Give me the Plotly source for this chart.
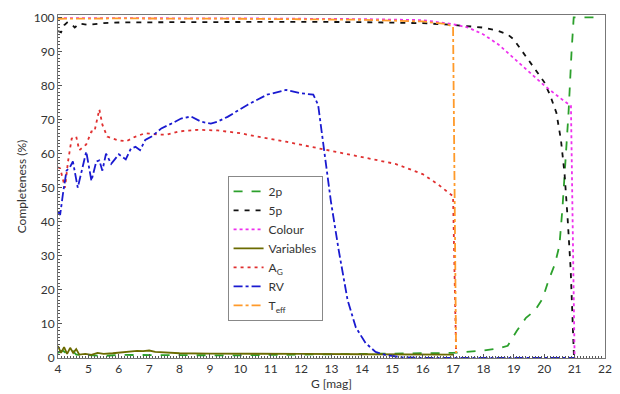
import plotly.graph_objects as go

# --- data (G magnitude vs completeness %) ---
g_2p = [4.0, 4.15, 4.3, 4.45, 4.6, 4.8, 5.0, 5.5, 6.0, 7.0, 8.0, 9.0, 10.0, 11.0, 12.0, 13.0, 14.0, 15.0,
        16.0, 17.0, 18.0, 18.5, 18.8, 19.1, 19.4, 19.7, 19.95, 20.15, 20.35, 20.5, 20.6, 20.7, 20.8, 20.9,
        20.97, 21.3, 21.9]
c_2p = [1.5, 2.2, 1.2, 2.4, 1.0, 0.9, 0.8, 0.6, 0.9, 0.8, 0.7, 0.8, 0.8, 0.9, 1.0, 1.0, 1.0, 1.1,
        1.2, 1.5, 2.2, 2.8, 3.6, 8.0, 11.8, 14.0, 17.5, 23.0, 27.5, 33.0, 44.0, 58.0, 72.0, 90.0,
        100.0, 100.0, 100.0]

g_5p = [4.0, 4.1, 4.2, 4.3, 4.45, 4.55, 4.7, 5.0, 5.5, 6.0, 8.0, 10.0, 12.0, 14.0, 16.0, 17.0, 17.5, 18.0,
        18.5, 18.8, 19.0, 19.2, 19.5, 19.8, 20.0, 20.2, 20.4, 20.55, 20.67, 20.77, 20.87, 20.93, 20.98]
c_5p = [96.0, 95.6, 97.7, 98.5, 98.0, 97.0, 98.2, 97.8, 98.3, 98.5, 98.6, 98.7, 98.7, 98.6, 98.3, 97.8, 97.5, 97.0,
        96.0, 95.0, 93.5, 91.0, 87.0, 83.5, 81.0, 77.0, 72.0, 64.0, 54.0, 41.0, 26.0, 12.0, 0.0]

g_col = [4.0, 6.0, 10.0, 14.0, 16.0, 17.0, 17.5, 18.0, 18.5, 19.0, 19.5, 20.0, 20.5, 20.88, 21.0]
c_col = [99.8, 99.8, 99.7, 99.5, 99.2, 98.0, 97.0, 95.0, 92.0, 88.0, 84.0, 80.0, 76.5, 74.0, 0.0]

g_var = [4.0, 4.1, 4.2, 4.3, 4.4, 4.5, 4.6, 4.7, 4.9, 5.1, 5.3, 5.5, 5.8, 6.0, 6.2, 6.4, 6.6, 6.8, 7.0,
         7.2, 7.5, 8.0, 9.0, 10.0, 12.0, 14.0, 16.0, 17.0]
c_var = [3.5, 1.5, 3.2, 1.2, 3.0, 1.5, 2.6, 1.0, 1.2, 0.9, 1.5, 1.2, 1.4, 1.6, 1.8, 1.9, 2.1, 2.0, 2.2,
         1.8, 1.6, 1.4, 1.3, 1.2, 1.2, 1.1, 1.1, 1.0]

g_ag = [4.0, 4.07, 4.23, 4.33, 4.45, 4.6, 4.7, 4.93, 5.1, 5.2, 5.36, 5.46, 5.62, 5.95, 6.24, 6.55, 6.87,
        7.3, 7.6, 7.96, 8.6, 9.25, 10.0, 10.55, 11.5, 12.8, 14.0, 15.1, 16.0, 16.5, 17.0, 17.1]
c_ag = [56.0, 55.7, 50.0, 57.7, 64.4, 65.0, 61.0, 62.7, 66.5, 66.5, 73.0, 68.5, 65.0, 64.0, 63.6, 65.0, 66.0,
        65.6, 65.6, 66.5, 67.0, 66.8, 66.0, 65.0, 63.5, 61.2, 59.0, 57.0, 54.0, 51.0, 47.5, 1.5]

g_rv = [4.0, 4.07, 4.16, 4.28, 4.39, 4.49, 4.65, 4.93, 5.1, 5.26, 5.36, 5.46, 5.58, 5.75, 6.0, 6.23, 6.4,
        6.55, 6.7, 6.87, 7.08, 7.4, 7.73, 8.05, 8.38, 8.7, 9.03, 9.25, 9.58, 10.23, 10.88, 11.5, 11.95,
        12.4, 12.56, 12.66, 12.82, 12.98, 13.24, 13.53, 13.8, 14.12, 14.45, 14.77, 15.3, 16.0, 18.0, 21.0]
c_rv = [43.0, 42.0, 48.0, 55.0, 56.0, 57.7, 50.0, 60.6, 52.0, 57.7, 58.0, 55.0, 60.0, 57.0, 59.8, 58.3, 61.5,
        62.0, 61.0, 64.0, 65.0, 67.4, 68.8, 70.3, 70.9, 69.4, 68.8, 69.4, 70.8, 74.3, 77.3, 78.7, 77.8,
        77.3, 74.3, 67.4, 57.7, 46.0, 31.5, 17.0, 9.0, 4.4, 1.8, 0.9, 0.2, 0.0, 0.0, 0.0]

g_teff = [4.0, 6.0, 10.0, 14.0, 16.0, 16.8, 17.0, 17.1]
c_teff = [99.6, 99.7, 99.6, 99.3, 98.8, 98.0, 97.2, 1.5]

series = [
    ("2p", g_2p, c_2p, "#2ca02c", "dash"),
    ("5p", g_5p, c_5p, "#111111", "5px,6px"),
    ("Colour", g_col, c_col, "#ee30ee", "dot"),
    ("Variables", g_var, c_var, "#6b6b00", "solid"),
    ("A<sub>G</sub>", g_ag, c_ag, "#e03030", "3px,4px"),
    ("RV", g_rv, c_rv, "#1a1ad0", "dashdot"),
    ("T<sub>eff</sub>", g_teff, c_teff, "#ff9a2a", "dashdot"),
]

fig = go.Figure()
for name, gx, cy, col, dash in series:
    fig.add_trace(go.Scatter(x=gx, y=cy, mode="lines", name=name,
                             line=dict(color=col, dash=dash, width=1.8)))

axis_common = dict(showgrid=False, zeroline=False, showline=True, linecolor="#777",
                   linewidth=1, mirror=True, ticks="inside", ticklen=4, tickcolor="#555",
                   automargin=False, ticklabeloverflow="allow", tickfont=dict(size=12, color="#333"))

# page body has an 8px margin, so the figure is sized/offset to compensate
fig.update_layout(
    width=604, height=386,
    margin=dict(l=50, r=7, t=7, b=36),
    paper_bgcolor="white", plot_bgcolor="white",
    font=dict(family="Lato, DejaVu Sans, sans-serif", size=12, color="#333"),
    xaxis=dict(range=[4, 22], dtick=1, title=dict(text="G [mag]", standoff=0, font=dict(size=12)),
               minor=dict(ticks="inside", ticklen=2, dtick=0.1, tickcolor="#555"), **axis_common),
    yaxis=dict(range=[0, 100.7], dtick=10, title=dict(text="Completeness (%)", standoff=4, font=dict(size=12)),
               minor=dict(ticks="inside", ticklen=2, dtick=1, tickcolor="#555"), **axis_common),
    legend=dict(x=0.31, y=0.531, xanchor="left", yanchor="top", bgcolor="white",
                bordercolor="#888", borderwidth=1, font=dict(size=12), itemwidth=30,
                tracegroupgap=0),
    showlegend=True,
)

fig.write_html("out.html")
